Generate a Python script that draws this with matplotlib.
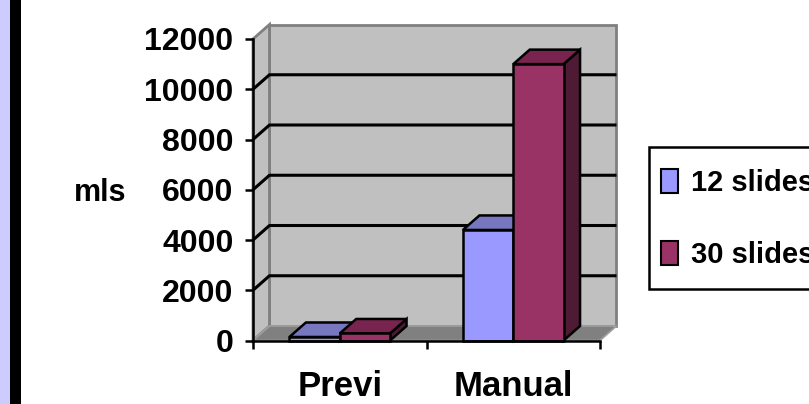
import matplotlib.pyplot as plt
import matplotlib.patches as mpatches
from matplotlib.legend_handler import HandlerPatch
import numpy as np

# data
categories = ["Previ", "Manual"]
series_names = ["12 slides", "30 slides"]
slides_12 = [140, 4400]
slides_30 = [280, 11000]
y_ticks = [0, 2000, 4000, 6000, 8000, 10000, 12000]

# bar face colours (front, top, side) per series
front_colors = ["#9999FF", "#993366"]
top_colors = ["#7777C0", "#78244E"]
side_colors = ["#5C5C99", "#4E1A34"]

# figure dimensions
png_width = 809
png_height = 404
png_dpi = 100

plt.rcParams["font.family"] = ["Liberation Sans", "DejaVu Sans"]
plt.rcParams["font.weight"] = "bold"

fig = plt.figure(figsize=(png_width / png_dpi, png_height / png_dpi), dpi=png_dpi)
fig.patch.set_facecolor("white")

# slide border strips on the left
fig.patches.append(mpatches.Rectangle((0, 0), 10 / png_width, 1, transform=fig.transFigure,
                                      facecolor="#CCCCFF", edgecolor="none"))
fig.patches.append(mpatches.Rectangle((10 / png_width, 0), 11 / png_width, 1, transform=fig.transFigure,
                                      facecolor="black", edgecolor="none"))

# front plane of the 3d box
ax = fig.add_axes([253 / png_width, 63.5 / png_height, 347 / png_width, 301.5 / png_height])
ax.set_xlim(-0.5, 1.5)
ax.set_ylim(0, 12000)
ax.patch.set_visible(False)
ax.spines["top"].set_visible(False)
ax.spines["right"].set_visible(False)
ax.spines["left"].set_linewidth(1.8)
ax.spines["bottom"].set_linewidth(1.8)

# depth of the box in data units
dx = 0.095
dy = 577

xl, xr = ax.get_xlim()
ylo, yhi = ax.get_ylim()

# walls and floor
wall_style = dict(facecolor="#C0C0C0", edgecolor="#808080", linewidth=2, clip_on=False, zorder=0)
ax.add_patch(mpatches.Polygon([(xl + dx, ylo + dy), (xr + dx, ylo + dy), (xr + dx, yhi + dy), (xl + dx, yhi + dy)],
                              **wall_style))
ax.add_patch(mpatches.Polygon([(xl, ylo), (xl + dx, ylo + dy), (xl + dx, yhi + dy), (xl, yhi)], **wall_style))
ax.add_patch(mpatches.Polygon([(xl, ylo), (xr, ylo), (xr + dx, ylo + dy), (xl + dx, ylo + dy)],
                              facecolor="#808080", edgecolor="#A0A0A0", linewidth=1.2, clip_on=False, zorder=0.5))

# gridlines on side wall and back wall
for v in y_ticks[1:-1]:
    ax.plot([xl, xl + dx, xr + dx], [v, v + dy, v + dy], color="black", linewidth=2.2,
            clip_on=False, zorder=1, solid_capstyle="butt")

# 3d bars: side, top then front face
bar_w = 0.29
edge = dict(edgecolor="black", linewidth=1.8, joinstyle="miter", clip_on=False, zorder=2)
for i in range(len(categories)):
    for j, vals in enumerate([slides_12, slides_30]):
        x0 = i - bar_w + j * bar_w
        h = vals[i]
        ax.add_patch(mpatches.Polygon([(x0 + bar_w, 0), (x0 + bar_w + dx, dy), (x0 + bar_w + dx, h + dy),
                                       (x0 + bar_w, h)], facecolor=side_colors[j], **edge))
        ax.add_patch(mpatches.Polygon([(x0, h), (x0 + bar_w, h), (x0 + bar_w + dx, h + dy), (x0 + dx, h + dy)],
                                      facecolor=top_colors[j], **edge))
        ax.bar(x0, h, width=bar_w, align="edge", color=front_colors[j], **edge)

# axes ticks and labels
ax.set_yticks(y_ticks)
ax.tick_params(axis="y", length=6, width=1.8, pad=8, labelsize=23)
ax.set_xticks(range(len(categories)), labels=categories)
ax.set_xticks([-0.5, 0.5, 1.5], minor=True)
ax.tick_params(axis="x", which="major", length=0, pad=21, labelsize=25)
ax.tick_params(axis="x", which="minor", length=6, width=1.8)

ax.set_ylabel("mls", rotation=0, fontsize=22, fontweight="bold", ha="center", va="center")
ax.yaxis.set_label_coords(-0.441, 0.489)


# legend keys: small box centred on the text, inside a tall handle area
def key_box(legend, orig_handle, xdescent, ydescent, width, height, fontsize):
    h = 0.82 * fontsize
    return mpatches.Rectangle((-xdescent, 0.36 * fontsize - h / 2), width, h)


handles = [mpatches.Patch(facecolor=front_colors[k], edgecolor="black", linewidth=1.5) for k in range(2)]
leg = fig.legend(handles, series_names, loc="upper left",
                 bbox_to_anchor=(649 / png_width, (png_height - 147) / png_height),
                 borderaxespad=0, fancybox=False, shadow=False, edgecolor="black", framealpha=1,
                 prop={"family": ["Liberation Sans", "DejaVu Sans"], "weight": "bold", "size": 21},
                 handler_map={mpatches.Patch: HandlerPatch(patch_func=key_box)},
                 handlelength=0.6, handleheight=2.1, handletextpad=0.45, borderpad=0.4, labelspacing=0.85)
leg.get_frame().set_linewidth(1.8)

# save
plt.savefig("out.png", dpi=png_dpi)
